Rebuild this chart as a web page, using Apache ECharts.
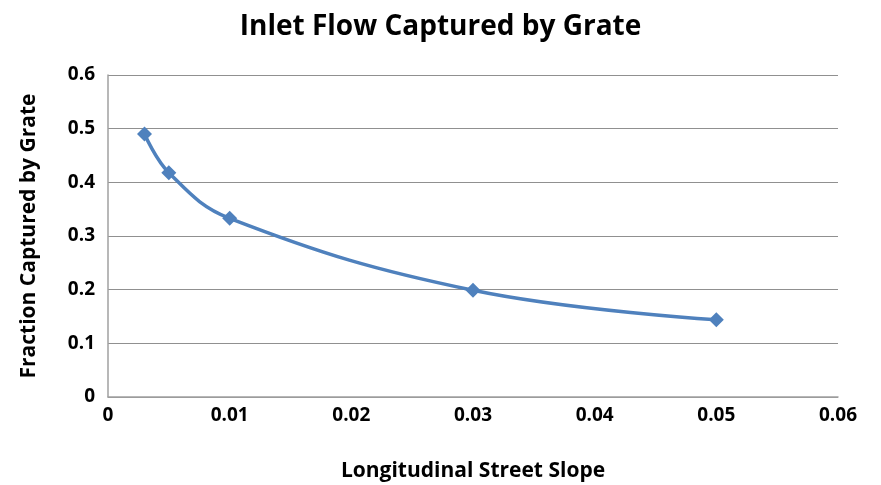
<!DOCTYPE html>
<html>
<head>
<meta charset="utf-8">
<script src="https://cdn.jsdelivr.net/npm/echarts@6/dist/echarts.min.js"></script>
<style>
  html, body { margin: 0; padding: 0; background: #fff; }
  #main { width: 881px; height: 485px; }
</style>
</head>
<body>
<div id="main"></div>
<script>
// slope vs fraction captured
var slopes = [0.003, 0.005, 0.01, 0.03, 0.05];
var fractions = [0.49, 0.418, 0.333, 0.199, 0.144];

var chart = echarts.init(document.getElementById('main'));
var font = '"Open Sans", Lato, sans-serif';

var option = {
    backgroundColor: '#fff',
    animation: false,
    title: {
        text: 'Inlet Flow Captured by Grate',
        left: 'center',
        top: 8,
        textStyle: { fontFamily: font, fontSize: 28, fontWeight: 'bold', color: '#000' }
    },
    grid: { left: 108, right: 43, top: 75, bottom: 88, outerBoundsMode: 'none', containLabel: false },
    xAxis: {
        type: 'value',
        min: 0, max: 0.06, interval: 0.01,
        name: 'Longitudinal Street Slope',
        nameLocation: 'middle',
        nameGap: 64,
        nameTextStyle: { fontFamily: font, fontSize: 21, fontWeight: 'bold', color: '#000' },
        axisLine: { lineStyle: { color: '#a0a0a0', width: 1.5 } },
        axisTick: { show: false },
        splitLine: { show: false },
        axisLabel: { fontFamily: font, fontSize: 19, fontWeight: 'bold', color: '#000', margin: 9 }
    },
    yAxis: {
        type: 'value',
        min: 0, max: 0.6, interval: 0.1,
        name: 'Fraction Captured by Grate',
        nameLocation: 'middle',
        nameGap: 68,
        nameTextStyle: { fontFamily: font, fontSize: 21, fontWeight: 'bold', color: '#000' },
        axisLine: { show: true, lineStyle: { color: '#a0a0a0', width: 1.5 } },
        axisTick: { show: false },
        splitLine: { lineStyle: { color: '#909090', width: 1.2 } },
        axisLabel: { fontFamily: font, fontSize: 19, fontWeight: 'bold', color: '#000', margin: 13 }
    },
    series: [{
        type: 'line',
        smooth: 0.4,
        data: slopes.map(function (s, i) { return [s, fractions[i]]; }),
        symbol: 'diamond',
        symbolSize: 15,
        lineStyle: { color: '#4f81bd', width: 3.5 },
        itemStyle: { color: '#4f81bd' }
    }]
};

chart.setOption(option);
</script>
</body>
</html>
